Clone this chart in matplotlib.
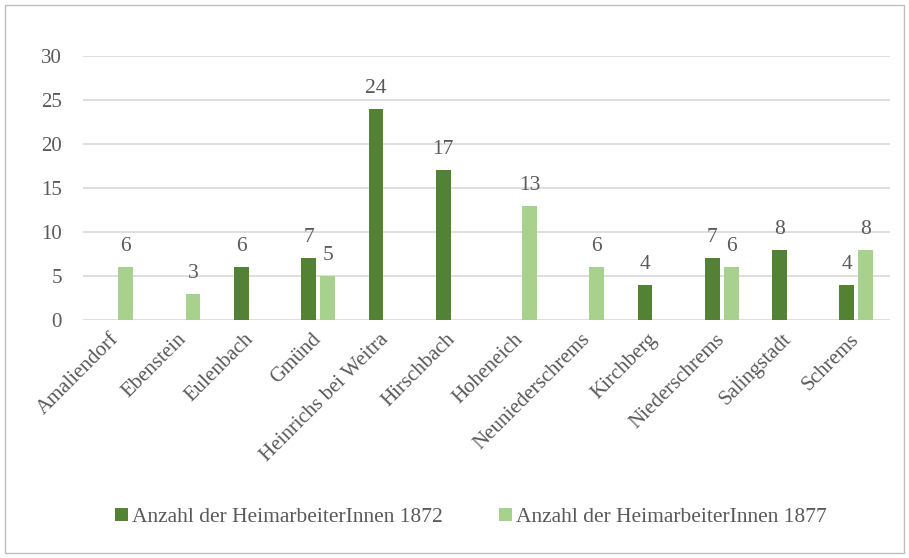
import numpy as np
import matplotlib
matplotlib.use("Agg")
import matplotlib.pyplot as plt
from matplotlib.patches import Rectangle

categories = ["Amaliendorf", "Ebenstein", "Eulenbach", "Gmünd", "Heinrichs bei Weitra",
              "Hirschbach", "Hoheneich", "Neuniederschrems", "Kirchberg",
              "Niederschrems", "Salingstadt", "Schrems"]
values_1872 = [np.nan, np.nan, 6, 7, 24, 17, np.nan, np.nan, 4, 7, 8, 4]
values_1877 = [6, 3, np.nan, 5, np.nan, np.nan, 13, 6, np.nan, 6, np.nan, 8]
series_names = ["Anzahl der HeimarbeiterInnen 1872", "Anzahl der HeimarbeiterInnen 1877"]
yticks = [0, 5, 10, 15, 20, 25, 30]

dark = "#548235"
light = "#A9D18E"
text_col = "#595959"
grid_col = "#D9D9D9"

plt.rcParams["font.family"] = ["Liberation Serif", "DejaVu Serif"]

fig = plt.figure(figsize=(9.09, 5.58), dpi=100)
ax = fig.add_axes([0.091, 0.4265, 0.888, 0.4731])

x = np.arange(len(categories))
w = 0.22
off = 0.14
b1 = ax.bar(x - off, values_1872, w, color=dark, label=series_names[0], zorder=3)
b2 = ax.bar(x + off, values_1877, w, color=light, label=series_names[1], zorder=3)

for bars, vals in ((b1, values_1872), (b2, values_1877)):
    for rect, v in zip(bars, vals):
        if np.isnan(v):
            continue
        ax.annotate(f"{int(v)}", (rect.get_x() + rect.get_width() / 2, v),
                    xytext=(0, 8), textcoords="offset points",
                    ha="center", va="bottom", fontsize=15.5, color=text_col)

ax.set_xlim(-0.5, len(categories) - 0.5)
ax.set_ylim(0, 30)
ax.set_yticks(yticks)
ax.set_xticks(x)
ax.set_xticklabels(categories, rotation=45, ha="right", va="center",
                   rotation_mode="anchor", fontsize=15)
ax.tick_params(axis="both", length=0, labelsize=15, colors=text_col)
ax.tick_params(axis="y", pad=15)
ax.tick_params(axis="x", pad=12)
ax.grid(axis="y", color=grid_col, linewidth=1.2, zorder=0)
for s in ax.spines.values():
    s.set_visible(False)

fig.legend(handles=[b1, b2], loc="center", bbox_to_anchor=(0.518, 0.073), ncol=2,
           frameon=False, fontsize=15.5, labelcolor=text_col, handlelength=0.6,
           handleheight=0.6, handletextpad=0.2, columnspacing=2.6)

fig.patches.append(Rectangle((0.006, 0.009), 0.988, 0.982, transform=fig.transFigure,
                             fill=False, edgecolor="#BFBFBF", linewidth=1))

fig.savefig("out.png", dpi=100)
